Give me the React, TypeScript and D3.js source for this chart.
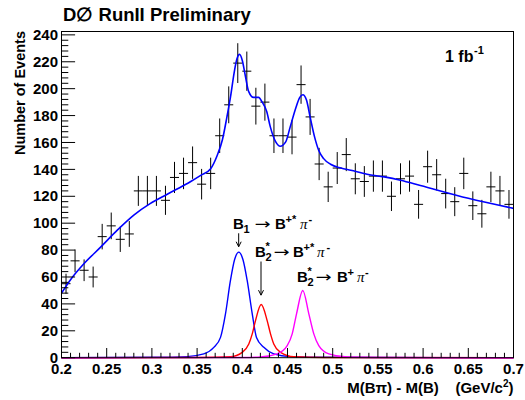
import * as d3 from "d3";

// histogram bins (centres, GeV/c^2) and counts
const binCenters = [
  0.205, 0.215, 0.225, 0.235, 0.245, 0.255, 0.265, 0.275, 0.285, 0.295,
  0.305, 0.315, 0.325, 0.335, 0.345, 0.355, 0.365, 0.375, 0.385, 0.395,
  0.405, 0.415, 0.425, 0.435, 0.445, 0.455, 0.465, 0.475, 0.485, 0.495,
  0.505, 0.515, 0.525, 0.535, 0.545, 0.555, 0.565, 0.575, 0.585, 0.595,
  0.605, 0.615, 0.625, 0.635, 0.645, 0.655, 0.665, 0.675, 0.685, 0.695,
];
const counts = [
  55, 72, 65, 60, 90, 98, 88, 92, 124, 124,
  124, 117, 134, 137, 145, 129, 137, 165, 188, 219,
  213, 187, 190, 165, 165, 164, 203, 179, 144, 127,
  141, 151, 133, 131, 135, 135, 120, 133, 135, 114,
  142, 136, 122, 116, 137, 113, 107, 127, 124, 114,
];

// total fit (blue)
const fitX = [
  0.2, 0.21, 0.225, 0.243, 0.262, 0.28, 0.298, 0.317, 0.335, 0.343, 0.354,
  0.365, 0.372, 0.378, 0.383, 0.387, 0.391, 0.394, 0.397, 0.4, 0.4035, 0.407,
  0.4125, 0.418, 0.422, 0.427, 0.431, 0.437, 0.442, 0.448, 0.453, 0.459,
  0.4636, 0.467, 0.471, 0.475, 0.48, 0.4846, 0.49, 0.4976, 0.509, 0.52,
  0.538, 0.557, 0.575, 0.597, 0.65, 0.7,
];
const fitY = [
  48, 58, 70, 82, 95, 106, 114.5, 121.5, 128, 131, 135.5,
  140.5, 150, 162, 179, 194, 212, 222, 225.5, 221, 209, 198,
  193.5, 193.5, 190, 183, 171.6, 160.4, 157.2, 160.4, 171.6, 185.3,
  193.5, 195.5, 191.5, 179, 164, 154, 148, 143.8, 141, 139.3,
  136.4, 134.4, 131.9, 128, 118.5, 111,
];

// signal components
const b1X = [0.2, 0.3, 0.339, 0.3574, 0.3685, 0.3759, 0.3814, 0.3869, 0.3915, 0.3961, 0.4007, 0.4054, 0.411, 0.4157, 0.4238, 0.4348, 0.4533, 0.5, 0.7];
const b1Y = [0, 0.3, 0.8, 2.8, 7.7, 15.1, 32.6, 57.4, 73, 78.5, 73, 57.4, 32.6, 15.1, 7.7, 2.8, 0.8, 0.3, 0];
const b2sX = [0.2, 0.35, 0.3869, 0.3999, 0.4072, 0.411, 0.4146, 0.4209, 0.4275, 0.4312, 0.4348, 0.4423, 0.457, 0.49, 0.7];
const b2sY = [0, 0.2, 0.7, 4, 10.2, 17.7, 27.6, 39.5, 27.6, 17.7, 10.2, 4, 0.7, 0.2, 0];
const b2X = [0.2, 0.4, 0.4201, 0.4386, 0.4497, 0.4552, 0.46, 0.4669, 0.4736, 0.4791, 0.4846, 0.4957, 0.516, 0.55, 0.7];
const b2Y = [0, 0.2, 0.5, 2.8, 8.9, 17.7, 32.6, 50, 32.6, 17.7, 8.9, 2.8, 0.5, 0.2, 0];

const xTicks = [0.2, 0.25, 0.3, 0.35, 0.4, 0.45, 0.5, 0.55, 0.6, 0.65, 0.7];
const xTickLabels = ["0.2", "0.25", "0.3", "0.35", "0.4", "0.45", "0.5", "0.55", "0.6", "0.65", "0.7"];
const yTicks = [0, 20, 40, 60, 80, 100, 120, 140, 160, 180, 200, 220, 240];

const SANS = "'Liberation Sans', Arial, Helvetica, sans-serif";

// label pieces: dx/dy in px from label origin
type Piece = { t: string; dx: number; dy: number; small?: boolean; pi?: boolean; arrow?: boolean };
const labels: { x: number; y: number; pieces: Piece[] }[] = [
  {
    x: 0.3897, y: 95.8,
    pieces: [
      { t: "B", dx: 0, dy: 0 },
      { t: "1", dx: 10.5, dy: 4, small: true },
      { t: "\u2192", dx: 21.5, dy: 0, arrow: true },
      { t: "B", dx: 42, dy: 0 },
      { t: "+*", dx: 52.5, dy: -6, small: true },
      { t: "\u03c0", dx: 67, dy: 0, pi: true },
      { t: "-", dx: 75.5, dy: -6, small: true },
    ],
  },
  {
    x: 0.414, y: 74.9,
    pieces: [
      { t: "B", dx: 0, dy: 0 },
      { t: "2", dx: 10.5, dy: 4, small: true },
      { t: "*", dx: 10.5, dy: -7, small: true },
      { t: "\u2192", dx: 18.5, dy: 0, arrow: true },
      { t: "B", dx: 38, dy: 0 },
      { t: "+*", dx: 48.5, dy: -6, small: true },
      { t: "\u03c0", dx: 62, dy: 0, pi: true },
      { t: "-", dx: 71.5, dy: -6, small: true },
    ],
  },
  {
    x: 0.4605, y: 56.6,
    pieces: [
      { t: "B", dx: 0, dy: 0 },
      { t: "2", dx: 10.5, dy: 4, small: true },
      { t: "*", dx: 10.5, dy: -7, small: true },
      { t: "\u2192", dx: 18.5, dy: 0, arrow: true },
      { t: "B", dx: 40, dy: 0 },
      { t: "+", dx: 50.5, dy: -6, small: true },
      { t: "\u03c0", dx: 60, dy: 0, pi: true },
      { t: "-", dx: 68, dy: -6, small: true },
    ],
  },
];
const arrows = [
  { x: 0.396, from: 92.5, to: 82.5 },
  { x: 0.4207, from: 71.5, to: 46.5 },
];

const frame = { left: 61.5, right: 513.5, top: 31.5, bottom: 357.7 };

export default function App() {
  const x = d3.scaleLinear().domain([0.2, 0.7]).range([frame.left, frame.right]);
  const y = d3.scaleLinear().domain([0, 242.5]).range([frame.bottom, frame.top]);

  const line = d3
    .line<[number, number]>()
    .x(d => x(d[0]))
    .y(d => y(d[1]))
    .curve(d3.curveMonotoneX);
  const path = (xs: number[], ys: number[]) => line(xs.map((v, i) => [v, ys[i]]) as [number, number][]) || "";

  const minorX = d3.range(20, 71).map(v => v / 100);
  const minorY = d3.range(0, 241, 4);
  const half = 0.005;

  return (
    <svg width={525} height={400} style={{ position: "absolute", left: 0, top: 0 }} fontFamily={SANS}>
      <rect width={525} height={400} fill="#fff" />

      {/* title */}
      <text x={63} y={21} fontSize={18.5} fontWeight="bold">
        D{"\u2205"} RunII Preliminary
      </text>

      {/* data points with errors */}
      <g stroke="#000" strokeWidth={1}>
        {binCenters.map((c, i) => {
          const v = counts[i];
          const e = Math.sqrt(v);
          return (
            <g key={i}>
              <line x1={x(c)} x2={x(c)} y1={y(v - e)} y2={y(v + e)} />
              <line x1={x(c - half)} x2={x(c + half)} y1={y(v)} y2={y(v)} />
            </g>
          );
        })}
      </g>

      {/* fit and components */}
      <path d={path(fitX, fitY)} fill="none" stroke="#0000ff" strokeWidth={1.6} />
      <path d={path(b1X, b1Y)} fill="none" stroke="#0000ff" strokeWidth={1.4} />
      <path d={path(b2sX, b2sY)} fill="none" stroke="#ff0000" strokeWidth={1.4} />
      <path d={path(b2X, b2Y)} fill="none" stroke="#ff00ff" strokeWidth={1.4} />

      {/* frame */}
      <rect x={frame.left} y={frame.top} width={frame.right - frame.left} height={frame.bottom - frame.top} fill="none" stroke="#000" strokeWidth={1} />

      {/* ticks */}
      <g stroke="#000" strokeWidth={1}>
        {minorX.map((t, i) => {
          const major = i % 5 === 0;
          return <line key={i} x1={x(t)} x2={x(t)} y1={frame.bottom} y2={frame.bottom - (major ? 9.7 : 4.9)} />;
        })}
        {minorY.map((t, i) => {
          const major = i % 5 === 0;
          return <line key={i} x1={frame.left} x2={frame.left + (major ? 13.6 : 6.8)} y1={y(t)} y2={y(t)} />;
        })}
      </g>
      <g fontSize={15} fontWeight="bold" textAnchor="middle">
        {xTicks.map((t, i) => (
          <text key={i} x={x(t)} y={374}>
            {xTickLabels[i]}
          </text>
        ))}
      </g>
      <g fontSize={15} fontWeight="bold" textAnchor="end">
        {yTicks.map(t => (
          <text key={t} x={58} y={y(t) + 5.2}>
            {t}
          </text>
        ))}
      </g>

      {/* axis titles */}
      <text transform="translate(25,31) rotate(-90)" textAnchor="end" fontSize={14.5} fontWeight="bold">
        Number of Events
      </text>
      <text x={frame.right} y={393} textAnchor="end" fontSize={15} fontWeight="bold" style={{ whiteSpace: "pre" }}>
        {"M(B\u03c0) - M(B)    (GeV/c"}
        <tspan dy={-6} fontSize={10}>2</tspan>
        <tspan dy={6}>)</tspan>
      </text>

      {/* luminosity */}
      <text x={445} y={62} fontSize={16} fontWeight="bold">1 fb</text>
      <text x={474} y={54} fontSize={11} fontWeight="bold">-1</text>

      {/* peak labels */}
      {labels.map((l, li) => (
        <g key={li}>
          {l.pieces.map((p, pi) => (
            <text
              key={pi}
              x={x(l.x) + p.dx}
              y={y(l.y) + p.dy}
              fontSize={p.small ? 11 : p.arrow ? 15 : 15}
              fontWeight={p.pi || p.arrow ? "normal" : "bold"}
              fontStyle={p.pi ? "italic" : "normal"}
              fontFamily={p.pi ? "'Liberation Serif', 'DejaVu Serif', serif" : p.arrow ? "'DejaVu Sans', sans-serif" : undefined}
              textLength={p.arrow ? 16 : undefined}
              lengthAdjust={p.arrow ? "spacingAndGlyphs" : undefined}
            >
              {p.t}
            </text>
          ))}
        </g>
      ))}
      <g stroke="#000" strokeWidth={1} fill="none">
        {arrows.map((a, i) => (
          <g key={i}>
            <line x1={x(a.x)} x2={x(a.x)} y1={y(a.from)} y2={y(a.to)} />
            <path d={`M${x(a.x) - 2.5},${y(a.to) - 5} L${x(a.x)},${y(a.to)} L${x(a.x) + 2.5},${y(a.to) - 5}`} />
          </g>
        ))}
      </g>
    </svg>
  );
}
